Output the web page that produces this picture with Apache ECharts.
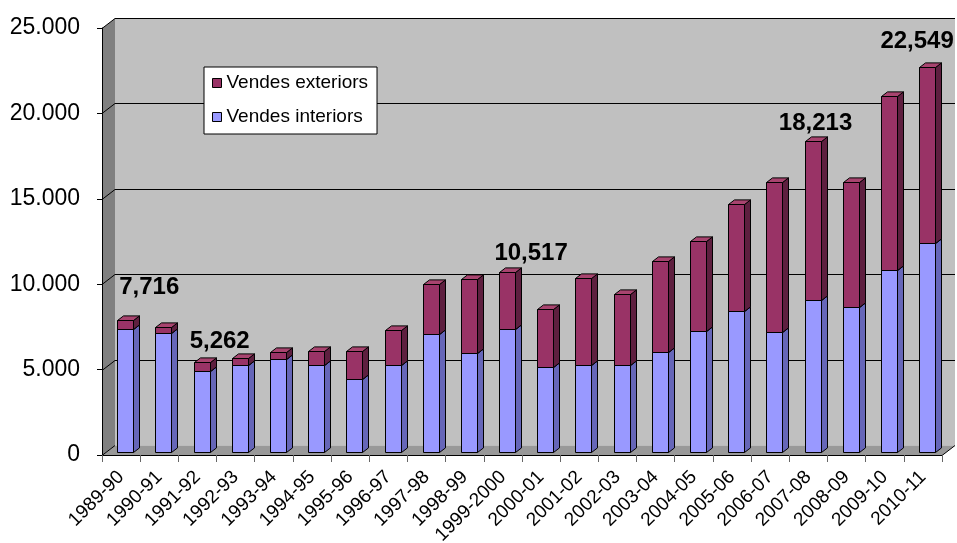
<!DOCTYPE html>
<html><head><meta charset="utf-8">
<script src="https://cdn.jsdelivr.net/npm/echarts@6/dist/echarts.min.js"></script>
<style>html,body{margin:0;padding:0;background:#fff}#c{width:957px;height:543px}</style>
</head><body><div id="c"></div>
<script>
// ---------- data ----------
const categories = ['1989-90','1990-91','1991-92','1992-93','1993-94','1994-95','1995-96','1996-97','1997-98','1998-99','1999-2000','2000-01','2001-02','2002-03','2003-04','2004-05','2005-06','2006-07','2007-08','2008-09','2009-10','2010-11'];
const interiorSales = [7180, 6960, 4720, 5080, 5410, 5080, 4250, 5070, 6880, 5800, 7160, 4970, 5090, 5090, 5860, 7040, 8260, 6980, 8880, 8490, 10650, 12220];
const exteriorSales = [536, 350, 542, 430, 450, 820, 1650, 2050, 2940, 4310, 3357, 3380, 5080, 4140, 5310, 5270, 6250, 8800, 9333, 7310, 10150, 10329];
const yTicks = [0, 5000, 10000, 15000, 20000, 25000];
const labelledBars = ['1989-90', '1991-92', '1999-2000', '2007-08', '2010-11'];
const seriesNames = ['Vendes exteriors', 'Vendes interiors'];

// ---------- styling / layout ----------
const labelOffsets = [[24, -33], [18, -21], [24, -19], [3, -18], [-10, -26]];
const L = 102, R = 942, B = 455, T = 28, DX = 13, DY = -10;
const FONT = 'Arial, "Liberation Sans", sans-serif';
const colInt = { front: '#9999ff', side: '#6666b8', top: '#aaaaff' };
const colExt = { front: '#993366', side: '#5e1f3f', top: '#a8446f' };

function bar3d(col, withLabel) {
  return function (params, api) {
    const i = api.value(0), lo = api.value(1), hi = api.value(2);
    const a = api.coord([i, lo]), b = api.coord([i, hi]);
    const band = api.size([1, 0])[0];
    const w = band * 0.42;
    const cx = a[0] + band * 0.11;
    const x0 = Math.round(cx - w / 2) + 0.5, x1 = Math.round(cx + w / 2) + 0.5;
    const y0 = Math.round(a[1] - 3.3) + 0.5, y1 = Math.round(b[1] - 3.3) + 0.5;
    const dx = 6, dy = -4.6;
    const stroke = { stroke: '#000', lineWidth: 1 };
    const children = [
      { type: 'polygon', shape: { points: [[x1, y0], [x1 + dx, y0 + dy], [x1 + dx, y1 + dy], [x1, y1]] }, style: Object.assign({ fill: col.side }, stroke) },
      { type: 'polygon', shape: { points: [[x0, y1], [x1, y1], [x1 + dx, y1 + dy], [x0 + dx, y1 + dy]] }, style: Object.assign({ fill: col.top }, stroke) },
      { type: 'rect', shape: { x: x0, y: y1, width: x1 - x0, height: y0 - y1 }, style: Object.assign({ fill: col.front }, stroke) }
    ];
    if (withLabel) {
      const k = labelledBars.indexOf(categories[i]);
      if (k >= 0) {
        const off = labelOffsets[k];
        children.push({
          type: 'text', x: cx + off[0], y: y1 + off[1],
          style: { text: Number(hi).toLocaleString('en-US'), fill: '#000', font: 'bold 24px ' + FONT, align: 'center', verticalAlign: 'middle' }
        });
      }
    }
    return { type: 'group', children: children };
  };
}

const chart = echarts.init(document.getElementById('c'), null, { renderer: 'canvas' });
chart.setOption({
  animation: false,
  backgroundColor: '#fff',
  grid: { left: L, top: T, width: R - L, height: B - T, containLabel: false, outerBoundsMode: 'none' },
  legend: {
    left: 204, top: 67, orient: 'vertical', itemGap: 14, padding: [6, 9, 7, 8],
    backgroundColor: '#fff', borderColor: '#000', borderWidth: 1,
    icon: 'rect', itemWidth: 9, itemHeight: 9,
    itemStyle: { borderColor: '#000', borderWidth: 1 },
    textStyle: { fontSize: 19, color: '#000', fontFamily: FONT, lineHeight: 20 },
    data: seriesNames
  },
  xAxis: {
    type: 'category', data: categories, boundaryGap: true, z: 5,
    axisLine: { lineStyle: { color: '#000', width: 1 } },
    axisTick: { show: true, length: 7, lineStyle: { color: '#666' } },
    axisLabel: { rotate: 45, fontSize: 19, color: '#000', fontFamily: FONT, margin: 19, interval: 0 },
    splitLine: { show: false }
  },
  yAxis: {
    type: 'value', min: 0, max: 25000, interval: 5000, z: 5,
    axisLine: { show: true, lineStyle: { color: '#000', width: 1 } },
    axisTick: { show: true, length: 5, lineStyle: { color: '#000' } },
    axisLabel: { fontSize: 23, color: '#000', fontFamily: FONT, margin: 22,
      formatter: v => String(v).replace(/\B(?=(\d{3})+(?!\d))/g, '.') },
    splitLine: { show: false }
  },
  series: [
    {
      name: seriesNames[1], type: 'custom', renderItem: bar3d(colInt, false),
      itemStyle: { color: colInt.front },
      encode: { x: 0, y: [1, 2] },
      data: categories.map((c, i) => [i, 0, interiorSales[i]]), z: 3
    },
    {
      name: seriesNames[0], type: 'custom', renderItem: bar3d(colExt, true),
      itemStyle: { color: colExt.front },
      encode: { x: 0, y: [1, 2] },
      data: categories.map((c, i) => [i, interiorSales[i], interiorSales[i] + exteriorSales[i]]), z: 4
    }
  ]
});

// 3D walls, floor and back-wall gridlines (chart chrome), placed via the axis scale
const yPix = yTicks.map(v => Math.round(chart.convertToPixel({ yAxisIndex: 0 }, v)) + 0.5);
const yTop = yPix[yPix.length - 1], yBot = yPix[0];
const g = [];
g.push({ type: 'rect', z: 0, shape: { x: L + DX, y: yTop + DY, width: R - L, height: yBot - yTop }, style: { fill: '#c0c0c0' } });
g.push({ type: 'polygon', z: 0, shape: { points: [[L, yBot], [L + DX, yBot + DY], [L + DX, yTop + DY], [L, yTop]] }, style: { fill: '#808080' } });
g.push({ type: 'polygon', z: 0, shape: { points: [[L, yBot], [R, yBot], [R + DX, yBot + DY], [L + DX, yBot + DY]] }, style: { fill: '#999999' } });
yPix.forEach((y, k) => {
  g.push({ type: 'line', z: 1, shape: { x1: L, y1: y, x2: L + DX, y2: y + DY }, style: { stroke: '#000', lineWidth: 1 } });
  if (k > 0) g.push({ type: 'line', z: 1, shape: { x1: L + DX, y1: y + DY, x2: R + DX, y2: y + DY }, style: { stroke: '#000', lineWidth: 1 } });
});
g.push({ type: 'line', z: 1, shape: { x1: R, y1: yBot, x2: R + DX, y2: yBot + DY }, style: { stroke: '#000', lineWidth: 1 } });
chart.setOption({ graphic: g });
</script>
</body></html>
